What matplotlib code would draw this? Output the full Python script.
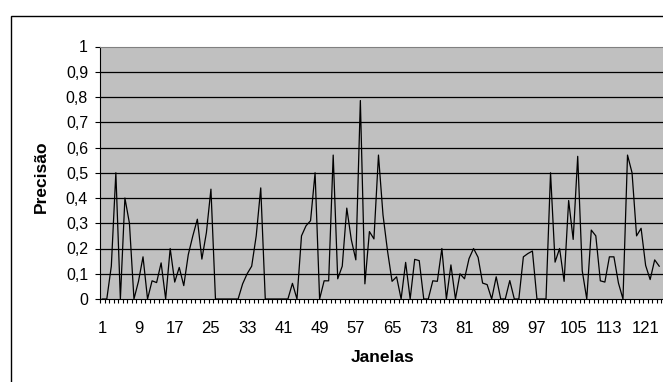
import matplotlib.pyplot as plt
from matplotlib.patches import Rectangle
from matplotlib.ticker import FixedLocator, FuncFormatter

plt.rcParams['font.family'] = ['Liberation Sans', 'DejaVu Sans']

# precision per window
precisao = [
    0, 0, 0.13, 0.5, 0, 0.4, 0.3, 0, 0.07, 0.167,
    0, 0.072, 0.065, 0.143, 0, 0.2, 0.067, 0.125, 0.053, 0.176,
    0.25, 0.316, 0.158, 0.263, 0.435, 0, 0, 0, 0, 0,
    0, 0.06, 0.1, 0.13, 0.25, 0.44, 0, 0, 0, 0,
    0, 0, 0.062, 0, 0.25, 0.29, 0.31, 0.5, 0, 0.072,
    0.072, 0.57, 0.08, 0.13, 0.36, 0.235, 0.155, 0.786, 0.06, 0.267,
    0.238, 0.57, 0.333, 0.19, 0.07, 0.088, 0, 0.145, 0, 0.157,
    0.152, 0, 0, 0.072, 0.07, 0.2, 0, 0.135, 0, 0.1,
    0.08, 0.16, 0.2, 0.165, 0.063, 0.057, 0, 0.088, 0, 0,
    0.073, 0, 0, 0.167, 0.18, 0.19, 0, 0, 0, 0.5,
    0.146, 0.2, 0.07, 0.39, 0.236, 0.565, 0.112, 0, 0.273, 0.25,
    0.072, 0.067, 0.167, 0.167, 0.063, 0, 0.57, 0.5, 0.25, 0.28,
    0.133, 0.077, 0.155, 0.13,
]
janelas = list(range(1, len(precisao) + 1))
x_labels = list(range(1, 125, 8))
y_ticks = [i / 10 for i in range(11)]

W, H = 663, 382
fig = plt.figure(figsize=(W / 100, H / 100), dpi=100)

# outer chart border (clipped on right and bottom like the original)
fig.add_artist(Rectangle((11 / W, -0.1), 1.2, (H - 16) / H + 0.1,
                         transform=fig.transFigure, fill=False,
                         ec='black', lw=1.0))

left, right, top, bottom = 100, 666, 46.5, 299
ax = fig.add_axes([left / W, (H - bottom) / H, (right - left) / W, (bottom - top) / H])
ax.set_facecolor('#C0C0C0')

ax.plot(janelas, precisao, color='black', lw=0.9, zorder=3)

ax.set_xlim(0.5, 125.5)
ax.set_ylim(0, 1)

for y in y_ticks[1:-1]:
    ax.axhline(y, color='black', lw=0.9, zorder=1)

ax.spines['right'].set_visible(False)
ax.spines['top'].set_color('#808080')
ax.spines['left'].set_color('black')
ax.spines['bottom'].set_color('black')
ax.spines['bottom'].set_zorder(4)

ax.set_yticks(y_ticks)
ax.yaxis.set_major_formatter(FuncFormatter(lambda v, p: f'{v:g}'.replace('.', ',')))
ax.tick_params(axis='y', direction='out', length=3.6, width=0.8, pad=5, labelsize=11.5)

ax.xaxis.set_major_locator(FixedLocator(x_labels))
ax.xaxis.set_minor_locator(FixedLocator([i + 0.5 for i in range(0, 126)]))
ax.tick_params(axis='x', which='major', length=0, pad=15.5, labelsize=12)
ax.tick_params(axis='x', which='minor', direction='out', length=3, width=0.8)

fig.text(383 / W, (H - 357.7) / H, 'Janelas', ha='center', va='center',
         fontsize=12.5, fontweight='bold')
fig.text(41 / W, (H - 177) / H, 'Precisão', ha='center', va='center',
         rotation=90, fontsize=12.5, fontweight='bold')

fig.savefig('out.png', dpi=100)
